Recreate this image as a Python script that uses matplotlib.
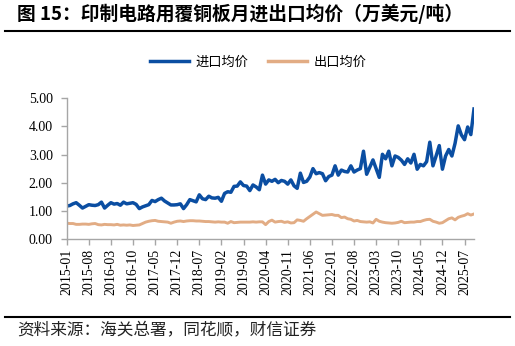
import matplotlib
matplotlib.use("Agg")
import matplotlib.pyplot as plt
from matplotlib.lines import Line2D
import pandas as pd

plt.rcParams['font.family'] = ['Noto Sans CJK SC', 'DejaVu Sans']

months = [p.strftime('%Y-%m') for p in pd.period_range('2015-01', '2025-10', freq='M')]

import_price = [
    1.17, 1.19, 1.25, 1.29, 1.20, 1.10, 1.16, 1.22, 1.20, 1.19,
    1.22, 1.31, 1.10, 1.20, 1.29, 1.24, 1.26, 1.20, 1.31, 1.25,
    1.27, 1.29, 1.23, 1.08, 1.14, 1.18, 1.22, 1.37, 1.33, 1.40,
    1.45, 1.35, 1.28, 1.21, 1.21, 1.22, 1.25, 1.08, 1.22, 1.40,
    1.36, 1.32, 1.57, 1.43, 1.40, 1.52, 1.46, 1.45, 1.48, 1.34,
    1.62, 1.68, 1.66, 1.87, 1.88, 2.03, 1.90, 1.88, 1.72, 1.92,
    1.85, 1.75, 2.27, 1.95, 2.10, 2.05, 2.12, 2.00, 2.08, 2.05,
    1.95, 2.10, 1.89, 1.80, 2.34, 2.01, 2.05, 2.20, 2.50, 2.32,
    2.36, 2.32, 2.07, 2.22, 2.27, 2.60, 2.27, 2.45, 2.40, 2.38,
    2.60, 2.38, 2.45, 2.50, 3.12, 2.30, 2.55, 2.81, 2.50, 2.19,
    3.01, 2.85, 3.12, 2.60, 2.95, 2.90, 2.80, 2.65, 2.85, 2.70,
    3.01, 2.48, 2.65, 2.60, 2.75, 3.44, 2.60, 2.95, 3.32, 2.48,
    2.95, 3.18, 2.95, 3.40, 4.02, 3.70, 3.53, 3.98, 3.71, 4.62,
]

export_price = [
    0.56, 0.55, 0.55, 0.52, 0.52, 0.53, 0.53, 0.52, 0.54, 0.55,
    0.51, 0.50, 0.52, 0.51, 0.51, 0.50, 0.52, 0.49, 0.50, 0.49,
    0.50, 0.48, 0.49, 0.50, 0.55, 0.60, 0.63, 0.65, 0.66, 0.63,
    0.62, 0.61, 0.60, 0.56, 0.60, 0.63, 0.64, 0.62, 0.64, 0.65,
    0.65, 0.64, 0.64, 0.63, 0.62, 0.62, 0.61, 0.60, 0.61, 0.60,
    0.60, 0.56, 0.62, 0.58, 0.59, 0.60, 0.60, 0.60, 0.60, 0.61,
    0.60, 0.61, 0.61, 0.51, 0.62, 0.67, 0.60, 0.62, 0.63, 0.59,
    0.61, 0.57, 0.58, 0.68, 0.66, 0.63, 0.72, 0.80, 0.88, 0.96,
    0.90, 0.84, 0.85, 0.86, 0.87, 0.84, 0.84, 0.76, 0.78, 0.72,
    0.70, 0.64, 0.66, 0.62, 0.61, 0.60, 0.61, 0.57, 0.70, 0.63,
    0.60, 0.58, 0.57, 0.56, 0.57, 0.59, 0.63, 0.58, 0.59, 0.60,
    0.60, 0.62, 0.62, 0.66, 0.69, 0.70, 0.63, 0.60, 0.56, 0.58,
    0.65, 0.72, 0.75, 0.68, 0.77, 0.81, 0.84, 0.90, 0.85, 0.89,
]

series_names = ['进口均价', '出口均价']
colors = ['#0B4EA2', '#E2AC84']
y_ticks = [0, 1, 2, 3, 4, 5]

title = '图 15：印制电路用覆铜板月进出口均价（万美元/吨）'
source = '资料来源：海关总署，同花顺，财信证券'

W, H = 515, 346
fig = plt.figure(figsize=(W / 100, H / 100), dpi=100)
ax = fig.add_axes([66.7 / W, 1 - 239 / H, (474 - 66.7) / W, (239 - 98.3) / H])

x = list(range(len(months)))
ax.plot(x, export_price, color=colors[1], lw=2.1, solid_joinstyle='round')
ax.plot(x, import_price, color=colors[0], lw=2.5, solid_joinstyle='round')

ax.set_xlim(0, len(months) - 1)
ax.set_ylim(0, 5)
ax.set_yticks(y_ticks)
ax.set_yticklabels([f'{v:.2f}' for v in y_ticks], family='Liberation Serif', fontsize=10)
tick_idx = list(range(0, len(months), 7))
ax.set_xticks(tick_idx)
ax.set_xticklabels([months[i] for i in tick_idx], rotation=90,
                   family='Liberation Serif', fontsize=10)

for s in ['top', 'right']:
    ax.spines[s].set_visible(False)
for s in ['left', 'bottom']:
    ax.spines[s].set_color('#A6A6A6')
    ax.spines[s].set_linewidth(1.0)
ax.tick_params(axis='both', direction='out', color='#A6A6A6', length=4, width=1.0,
               labelcolor='black')
ax.tick_params(axis='x', pad=3)
ax.tick_params(axis='y', pad=6)

handles = [Line2D([], [], color=c, lw=2.5) for c in colors]
fig.legend(handles, series_names, loc='center', bbox_to_anchor=(258 / W, 1 - 62 / H),
           ncol=2, frameon=False, fontsize=9.5, handlelength=3.0, handletextpad=0.45,
           columnspacing=1.5)

fig.text(17 / W, 1 - 14 / H, title, fontsize=13.5, fontweight='bold', va='center', ha='left')
fig.add_artist(Line2D([5 / W, 510 / W], [1 - 31 / H, 1 - 31 / H], color='black', lw=1.5))
fig.add_artist(Line2D([5 / W, 510 / W], [1 - 317 / H, 1 - 317 / H], color='black', lw=1.5))
fig.text(17 / W, 1 - 331 / H, source, fontsize=12, va='center', ha='left', color='#222222')

fig.savefig('out.png', dpi=100)
